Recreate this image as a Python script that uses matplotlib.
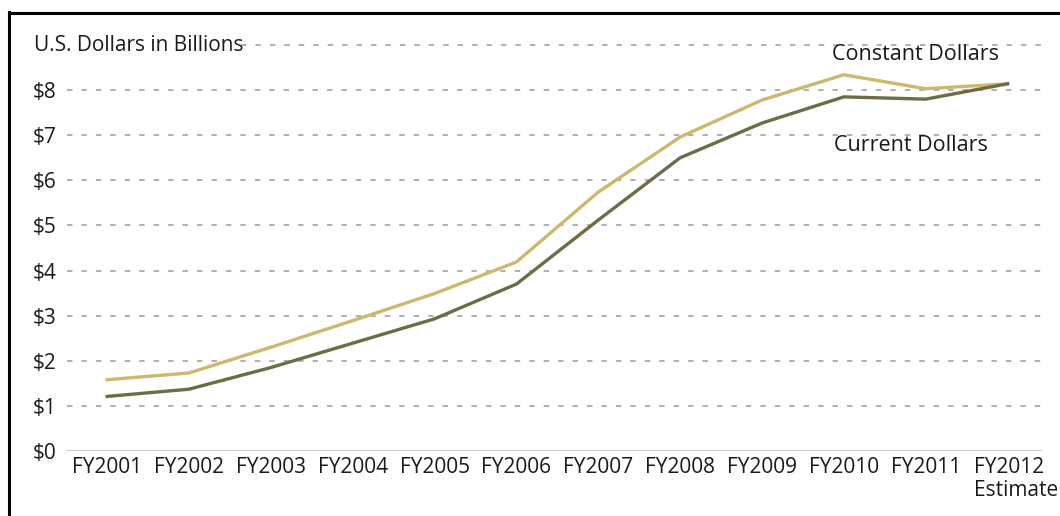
import matplotlib
matplotlib.use("Agg")
import matplotlib.pyplot as plt
import matplotlib.transforms as mtransforms
from matplotlib.lines import Line2D

# Fiscal years and spending (U.S. dollars in billions)
years = ["FY2001", "FY2002", "FY2003", "FY2004", "FY2005", "FY2006",
         "FY2007", "FY2008", "FY2009", "FY2010", "FY2011", "FY2012\nEstimate"]
constant_dollars = [1.58, 1.73, 2.30, 2.89, 3.49, 4.19, 5.74, 6.96, 7.78, 8.34, 8.03, 8.14]
current_dollars = [1.21, 1.37, 1.85, 2.39, 2.93, 3.70, 5.12, 6.50, 7.27, 7.85, 7.80, 8.14]
y_ticks = [0, 1, 2, 3, 4, 5, 6, 7, 8]
y_tick_labels = ["$0", "$1", "$2", "$3", "$4", "$5", "$6", "$7", "$8"]

FONT = "Open Sans"
TEXT = "#1a1a1a"
LIGHT = "#cdb86e"
DARK = "#6e6c45"
FS = 15

fig = plt.figure(figsize=(10.60, 5.16), dpi=100)
ax = fig.add_axes([67 / 1060, 65 / 516, 975 / 1060, 406 / 516])

x = list(range(len(years)))
ax.set_xlim(-0.49, 11.42)
ax.set_ylim(0, 9)

# dashed horizontal gridlines at each dollar level
for v in y_ticks[1:]:
    ax.axhline(v, color="#a9a9a9", lw=1.3, dashes=(3, 5), zorder=1)
# top line only starts after the unit caption
ax.plot([1.63, 11.42], [9, 9], color="#a9a9a9", lw=1.3, dashes=(3, 5),
        clip_on=False, zorder=1)
ax.axhline(0, color="#c8c8c8", lw=2.2, zorder=1)

ax.plot(x, constant_dollars, color=LIGHT, lw=2.4, zorder=3)
ax.plot(x, current_dollars, color=DARK, lw=2.4, zorder=3)

for s in ax.spines.values():
    s.set_visible(False)
ax.tick_params(length=0)
ax.set_yticks(y_ticks)
ax.set_yticklabels(y_tick_labels, fontsize=FS, color=TEXT, family=FONT, ha="left")
ax.tick_params(axis="y", pad=24.5)
ax.set_xticks(x)
ax.set_xticklabels(years, fontsize=FS, color=TEXT, family=FONT,
                   linespacing=1.15)
ax.tick_params(axis="x", pad=4)
last = ax.get_xticklabels()[-1]
last.set_multialignment("left")
last.set_transform(last.get_transform() +
                   mtransforms.ScaledTranslation(9 / 100, 0, fig.dpi_scale_trans))

ax.text(-0.47 - 35 / 81.9, 9, "U.S. Dollars in Billions",
        fontsize=FS, color=TEXT, family=FONT, va="center", ha="left")

ax.text(8.85, 8.78, "Constant Dollars", fontsize=15.5, color=TEXT,
        family=FONT, va="center", ha="left")
ax.text(8.88, 6.78, "Current Dollars", fontsize=15.5, color=TEXT,
        family=FONT, va="center", ha="left")

# frame around the figure panel
fig.add_artist(Line2D([8.5 / 1060, 8.5 / 1060], [0, 1 - 12 / 516],
                      transform=fig.transFigure, color="black", lw=2.2))
fig.add_artist(Line2D([8.5 / 1060, 1.0], [1 - 12.5 / 516, 1 - 12.5 / 516],
                      transform=fig.transFigure, color="black", lw=2.2))

fig.savefig("out.png", dpi=100, facecolor="white")
